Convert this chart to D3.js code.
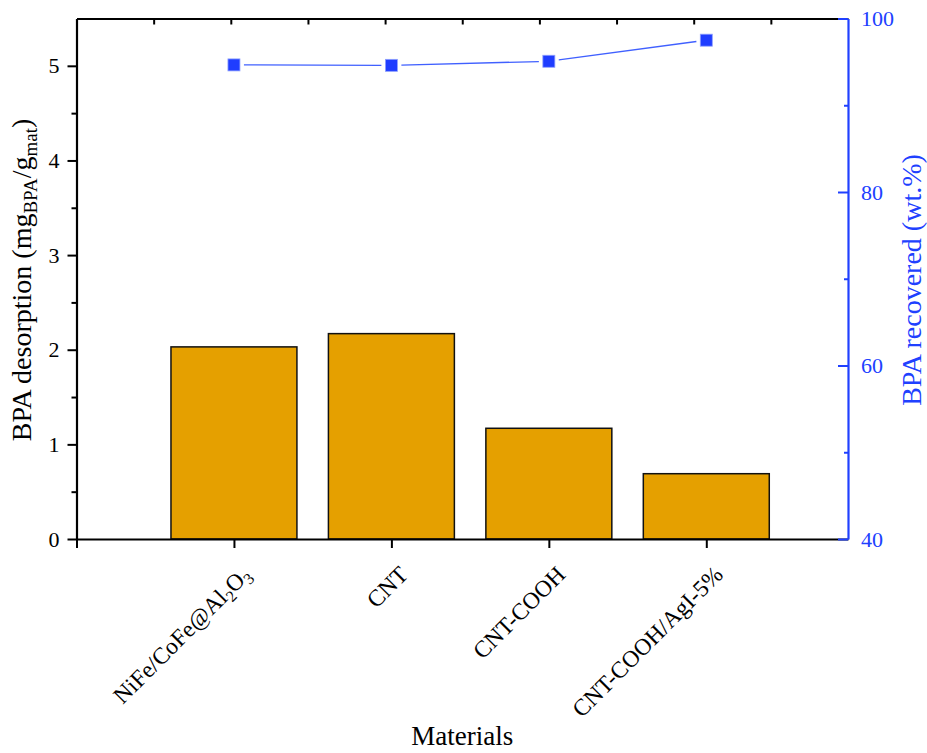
<!DOCTYPE html>
<html><head><meta charset="utf-8">
<script src="https://cdn.jsdelivr.net/npm/d3@7/dist/d3.min.js"></script>
<style>body{margin:0;background:#fff}svg{display:block}text{font-family:"Liberation Serif","Times New Roman",serif}</style>
</head><body>
<svg id="c" width="927" height="753"></svg>
<script>
// ---- data ----
const categories = ["NiFe/CoFe@Al2O3", "CNT", "CNT-COOH", "CNT-COOH/AgI-5%"];
const desorption = [2.03, 2.17, 1.17, 0.69];        // mg_BPA/g_mat (left axis)
const recovered = [94.65, 94.6, 95.07, 97.5];       // wt.% (right axis)
const leftTicks = [0, 1, 2, 3, 4, 5];
const rightTicks = [40, 60, 80, 100];
// label parts: [text, isSub]
const labelParts = [
  [["NiFe/CoFe@Al", 0], ["2", 1], ["O", 0], ["3", 1]],
  [["CNT", 0]],
  [["CNT-COOH", 0]],
  [["CNT-COOH/AgI-5%", 0]]
];

const svg = d3.select("#c");
const L = 76.5, R = 848, T = 18.5, B = 539;
const blue = "#2040ff";

const x = d3.scaleLinear().domain([0, 4.9]).range([L, R]);
const yL = d3.scaleLinear().domain([0, 5.5]).range([B, T]);
const yR = d3.scaleLinear().domain([40, 100]).range([B, T]);
const barW = x(0.8) - x(0);

// bars
svg.append("g").selectAll("rect").data(desorption).join("rect")
  .attr("x", (d, i) => x(i + 1) - barW / 2)
  .attr("y", d => yL(d))
  .attr("width", barW)
  .attr("height", d => yL(0) - yL(d))
  .attr("fill", "#e5a000")
  .attr("stroke", "#111")
  .attr("stroke-width", 1.5);

// top axis (ticks inward, no labels)
const topScale = d3.scaleLinear().domain([0, 10]).range([L, R]);
svg.append("g").attr("transform", `translate(0,${T})`)
  .call(d3.axisBottom(topScale).tickValues(d3.range(1, 10)).tickSize(6).tickSizeOuter(0).tickFormat(""))
  .call(g => g.select(".domain").attr("stroke-width", 2.2))
  .call(g => g.selectAll(".tick line").attr("stroke-width", 2));

// bottom axis
svg.append("g").attr("transform", `translate(0,${B})`)
  .call(d3.axisBottom(x).tickValues([0, 1, 2, 3, 4]).tickSize(9).tickSizeOuter(0).tickFormat(""))
  .call(g => g.select(".domain").attr("stroke-width", 2.2))
  .call(g => g.selectAll(".tick line").attr("stroke-width", 2));

// x tick labels
const xl = svg.append("g");
categories.forEach((c, i) => {
  const t = xl.append("text")
    .attr("transform", `translate(${x(i + 1) + 18},${B + 37}) rotate(-45)`)
    .attr("text-anchor", "end")
    .attr("font-size", 23.5)
    .attr("fill", "#000");
  labelParts[i].forEach(([s, sub]) => {
    const ts = t.append("tspan").text(s);
    if (sub) ts.attr("font-size", 16).attr("baseline-shift", "-30%");
  });
});

// left axis
const la = svg.append("g").attr("transform", `translate(${L},0)`);
la.call(d3.axisLeft(yL).tickValues(d3.range(0.5, 5.5, 1)).tickSize(5).tickSizeOuter(0).tickFormat(""))
  .call(g => g.selectAll(".tick line").attr("stroke-width", 2));
la.append("g").call(d3.axisLeft(yL).tickValues(leftTicks).tickSize(9).tickSizeOuter(0).tickPadding(8).tickFormat(d3.format("d")))
  .call(g => g.select(".domain").attr("stroke-width", 2.2))
  .call(g => g.selectAll(".tick line").attr("stroke-width", 2))
  .call(g => g.selectAll(".tick text").attr("font-size", 22).attr("fill", "#000"));
la.select(".domain").remove();

// right axis (blue, ticks inward)
const ra = svg.append("g").attr("transform", `translate(${R},0)`);
ra.call(d3.axisRight(yR).tickValues([50, 70, 90]).tickSizeInner(-4).tickSizeOuter(0).tickFormat(""))
  .call(g => g.selectAll(".tick line").attr("stroke", blue).attr("stroke-width", 2));
ra.select(".domain").remove();
ra.append("g").call(d3.axisRight(yR).tickValues(rightTicks).tickSizeInner(-10).tickSizeOuter(0).tickPadding(13).tickFormat(d3.format("d")))
  .call(g => g.select(".domain").attr("stroke", blue).attr("stroke-width", 2.2))
  .call(g => g.selectAll(".tick line").attr("stroke", blue).attr("stroke-width", 2))
  .call(g => g.selectAll(".tick text").attr("font-size", 22).attr("fill", blue));

// line segments with gaps around markers
const pts = recovered.map((v, i) => [x(i + 1), yR(v)]);
const gap = 10;
const segs = d3.pairs(pts).map(([a, b]) => {
  const dx = b[0] - a[0], dy = b[1] - a[1], len = Math.hypot(dx, dy);
  const ux = dx / len, uy = dy / len;
  return [[a[0] + ux * gap, a[1] + uy * gap], [b[0] - ux * gap, b[1] - uy * gap]];
});
svg.append("g").selectAll("line").data(segs).join("line")
  .attr("x1", d => d[0][0]).attr("y1", d => d[0][1])
  .attr("x2", d => d[1][0]).attr("y2", d => d[1][1])
  .attr("stroke", "#4060ff").attr("stroke-width", 1.3);

// markers
const ms = 12;
svg.append("g").selectAll("rect").data(recovered).join("rect")
  .attr("x", (d, i) => x(i + 1) - ms / 2)
  .attr("y", d => yR(d) - ms / 2)
  .attr("width", ms).attr("height", ms)
  .attr("fill", "#1f3dff")
  .attr("stroke", "#8fa0ff").attr("stroke-width", 0.8);

// axis titles
const lt = svg.append("text")
  .attr("transform", `translate(31,280) rotate(-90)`)
  .attr("text-anchor", "middle").attr("font-size", 28).attr("fill", "#000");
lt.append("tspan").text("BPA desorption (mg");
lt.append("tspan").text("BPA").attr("font-size", 19).attr("baseline-shift", "-30%");
lt.append("tspan").text("/g");
lt.append("tspan").text("mat").attr("font-size", 19).attr("baseline-shift", "-30%");
lt.append("tspan").text(")");

svg.append("text")
  .attr("transform", `translate(921,280) rotate(-90)`)
  .attr("text-anchor", "middle").attr("font-size", 28).attr("fill", blue)
  .text("BPA recovered (wt.%)");

svg.append("text")
  .attr("x", (L + R) / 2).attr("y", 745)
  .attr("text-anchor", "middle").attr("font-size", 27).attr("fill", "#000")
  .text("Materials");
</script>
</body></html>
